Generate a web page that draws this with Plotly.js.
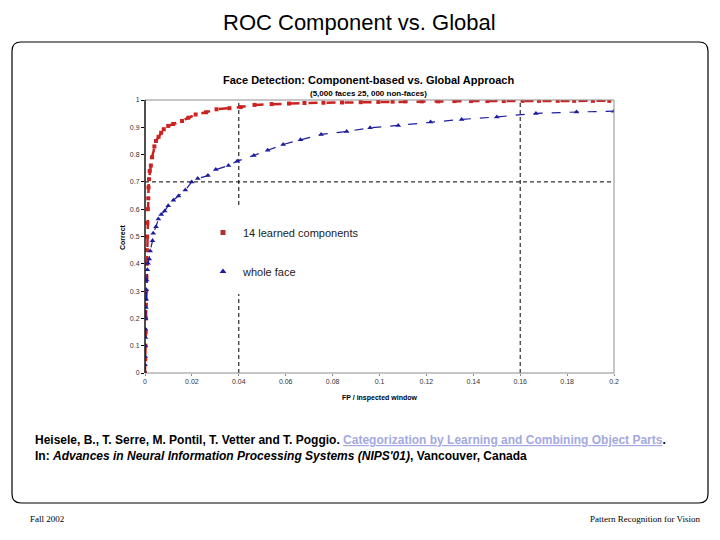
<!DOCTYPE html>
<html>
<head>
<meta charset="utf-8">
<script src="https://cdn.plot.ly/plotly-3.0.1.min.js"></script>
<style>html,body{margin:0;padding:0;background:#fff;}#chart{width:720px;height:540px;}</style>
</head>
<body>
<div id="chart"></div>
<script>
// ---- Data ----
var seriesNames = ["14 learned components", "whole face"];

var componentFP = [0, 0.0001, 0.0002, 0.0003, 0.0003, 0.0004, 0.0005, 0.0006, 0.0007, 0.0008, 0.0009, 0.001, 0.0012, 0.0014, 0.0015, 0.0017, 0.002, 0.0025, 0.003, 0.004, 0.0047, 0.0058, 0.0069, 0.008, 0.0099, 0.012, 0.0158, 0.0185, 0.0216, 0.026, 0.0305, 0.036, 0.0408, 0.0467, 0.054, 0.0614, 0.068, 0.0761, 0.084, 0.092, 0.0995, 0.1056, 0.111, 0.118, 0.125, 0.132, 0.139, 0.146, 0.153, 0.161, 0.168, 0.176, 0.183, 0.191, 0.198];
var componentCorrect = [0, 0.05, 0.1, 0.15, 0.2, 0.25, 0.3, 0.35, 0.4, 0.45, 0.5, 0.55, 0.6, 0.64, 0.68, 0.71, 0.74, 0.76, 0.79, 0.83, 0.85, 0.865, 0.88, 0.893, 0.905, 0.912, 0.923, 0.935, 0.947, 0.955, 0.966, 0.97, 0.974, 0.982, 0.985, 0.987, 0.989, 0.99, 0.991, 0.992, 0.993, 0.994, 0.995, 0.995, 0.995, 0.996, 0.996, 0.996, 0.996, 0.997, 0.997, 0.997, 0.997, 0.997, 0.997];

var wholeFP = [0, 0, 0.0001, 0.0001, 0.0002, 0.0002, 0.0003, 0.0004, 0.0005, 0.0006, 0.0007, 0.001, 0.0013, 0.0018, 0.0022, 0.0032, 0.0035, 0.0047, 0.0057, 0.0069, 0.0084, 0.0099, 0.0121, 0.0143, 0.0172, 0.0199, 0.0225, 0.0268, 0.0302, 0.0356, 0.0393, 0.0464, 0.0523, 0.0589, 0.0663, 0.0751, 0.086, 0.096, 0.108, 0.1218, 0.135, 0.15, 0.1667, 0.184, 0.2];
var wholeCorrect = [0, 0.03, 0.06, 0.1, 0.13, 0.16, 0.2, 0.24, 0.27, 0.305, 0.341, 0.378, 0.402, 0.418, 0.447, 0.484, 0.512, 0.536, 0.564, 0.581, 0.593, 0.613, 0.633, 0.648, 0.67, 0.7, 0.712, 0.723, 0.745, 0.76, 0.776, 0.797, 0.816, 0.837, 0.854, 0.874, 0.885, 0.898, 0.907, 0.919, 0.929, 0.938, 0.951, 0.956, 0.959];

var xTickVals = [0, 0.02, 0.04, 0.06, 0.08, 0.1, 0.12, 0.14, 0.16, 0.18, 0.2];
var xTickText = ["0", "0.02", "0.04", "0.06", "0.08", "0.1", "0.12", "0.14", "0.16", "0.18", "0.2"];
var yTickVals = [0, 0.1, 0.2, 0.3, 0.4, 0.5, 0.6, 0.7, 0.8, 0.9, 1];
var yTickText = ["0", "0.1", "0.2", "0.3", "0.4", "0.5", "0.6", "0.7", "0.8", "0.9", "1"];
var refX = [0.04, 0.16];
var refY = [0.7];

// ---- Layout helpers (pixel -> paper / data) ----
var L = 145, R = 614, T = 100, B = 373;
function px(x) { return (x - L) / (R - L); }
function py(y) { return (B - y) / (B - T); }
function dx(x) { return px(x) * 0.2; }
function dy(y) { return py(y); }

var RED = "#cc2222", BLUE = "#1c1c9c";

var traces = [
  {x: componentFP, y: componentCorrect, mode: "lines+markers", showlegend: false,
   line: {color: RED, width: 2.5, dash: "dash"},
   marker: {symbol: "square", size: 4, color: RED}},
  {x: wholeFP, y: wholeCorrect, mode: "lines+markers", showlegend: false,
   line: {color: BLUE, width: 1.2, dash: "dash"},
   marker: {symbol: "triangle-up", size: 5, color: BLUE}},
  {x: [null], y: [null], mode: "markers", name: seriesNames[0], legendgroup: "a",
   marker: {symbol: "square", size: 5, color: "#b03030"}},
  {x: [null], y: [null], mode: "markers", name: seriesNames[1], legendgroup: "b",
   marker: {symbol: "triangle-up", size: 6, color: BLUE}}
];

// rounded slide border
var bl = 12, br = 708, bt = 42, bb = 503, rr = 9;
var borderPath = "M " + px(bl + rr) + "," + py(bt) +
  " L " + px(br - rr) + "," + py(bt) +
  " Q " + px(br) + "," + py(bt) + " " + px(br) + "," + py(bt + rr) +
  " L " + px(br) + "," + py(bb - rr) +
  " Q " + px(br) + "," + py(bb) + " " + px(br - rr) + "," + py(bb) +
  " L " + px(bl + rr) + "," + py(bb) +
  " Q " + px(bl) + "," + py(bb) + " " + px(bl) + "," + py(bb - rr) +
  " L " + px(bl) + "," + py(bt + rr) +
  " Q " + px(bl) + "," + py(bt) + " " + px(bl + rr) + "," + py(bt) + " Z";

var shapes = [];
refX.forEach(function (v) {
  shapes.push({type: "line", layer: "below", xref: "x", yref: "y", x0: v, x1: v, y0: 0, y1: 1,
    line: {color: "#000", width: 1, dash: "4px,3px"}});
});
refY.forEach(function (v) {
  shapes.push({type: "line", layer: "below", xref: "x", yref: "y", x0: 0, x1: 0.2, y0: v, y1: v,
    line: {color: "#000", width: 1, dash: "4px,3px"}});
});
// white box behind legend (hides the reference line there)
shapes.push({type: "rect", layer: "below", xref: "x", yref: "y",
  x0: dx(218), x1: dx(365), y0: dy(207), y1: dy(294), fillcolor: "#fff", line: {width: 0}});
// plot frame (gray) and black left axis
shapes.push({type: "rect", layer: "above", xref: "paper", yref: "paper", x0: 0, x1: 1, y0: 0, y1: 1,
  line: {color: "#8c8c8c", width: 1}});
shapes.push({type: "line", layer: "above", xref: "paper", yref: "paper", x0: 0, x1: 0, y0: 0, y1: 1,
  line: {color: "#000", width: 1.2}});
shapes.push({type: "path", xref: "paper", yref: "paper", path: borderPath, line: {color: "#000", width: 1.2}});

var annotations = [
  {text: "ROC Component vs. Global", x: px(359), y: py(23), xref: "paper", yref: "paper",
   showarrow: false, xanchor: "center", yanchor: "middle",
   font: {family: "Liberation Sans, Arial, sans-serif", size: 22, color: "#000"}},
  {text: "<b>Face Detection: Component-based vs. Global Approach</b>", x: px(368), y: py(80),
   xref: "paper", yref: "paper", showarrow: false, xanchor: "center", yanchor: "middle",
   font: {family: "Liberation Sans, Arial, sans-serif", size: 11, color: "#000"}},
  {text: "<b>(5,000 faces 25, 000 non-faces)</b>", x: px(368), y: py(93),
   xref: "paper", yref: "paper", showarrow: false, xanchor: "center", yanchor: "middle",
   font: {family: "Liberation Sans, Arial, sans-serif", size: 8, color: "#000"}},
  {text: "<b>Correct</b>", x: px(122), y: py(237), xref: "paper", yref: "paper", textangle: -90,
   showarrow: false, xanchor: "center", yanchor: "middle",
   font: {family: "Liberation Sans, Arial, sans-serif", size: 7, color: "#000"}},
  {text: "<b>FP / inspected window</b>", x: px(379), y: py(398), xref: "paper", yref: "paper",
   showarrow: false, xanchor: "center", yanchor: "middle",
   font: {family: "Liberation Sans, Arial, sans-serif", size: 7, color: "#000"}},
  {text: "<b>Heisele, B., T. Serre, M. Pontil, T. Vetter and T. Poggio. <span style='color:#a4a9df'><u>Categorization by Learning and Combining Object Parts</u></span>.</b>",
   x: px(33), y: py(440), xref: "paper", yref: "paper", showarrow: false, xanchor: "left", yanchor: "middle",
   font: {family: "Liberation Sans, Arial, sans-serif", size: 12, color: "#000"}},
  {text: "<b>In: <i>Advances in Neural Information Processing Systems (NIPS'01)</i>, Vancouver, Canada</b>",
   x: px(33), y: py(456), xref: "paper", yref: "paper", showarrow: false, xanchor: "left", yanchor: "middle",
   font: {family: "Liberation Sans, Arial, sans-serif", size: 12, color: "#000"}},
  {text: "Fall 2002", x: px(28), y: py(519), xref: "paper", yref: "paper", showarrow: false,
   xanchor: "left", yanchor: "middle", font: {family: "Liberation Serif, Times New Roman, serif", size: 9, color: "#000"}},
  {text: "Pattern Recognition for Vision", x: px(703), y: py(519), xref: "paper", yref: "paper", showarrow: false,
   xanchor: "right", yanchor: "middle", font: {family: "Liberation Serif, Times New Roman, serif", size: 9, color: "#000"}}
];

var layout = {
  width: 720, height: 540,
  margin: {l: L, r: 720 - R, t: T, b: 540 - B, pad: 0},
  paper_bgcolor: "#fff", plot_bgcolor: "#fff",
  showlegend: true,
  legend: {x: px(203), y: py(218), xanchor: "left", yanchor: "top", bgcolor: "rgba(0,0,0,0)",
    borderwidth: 0, tracegroupgap: 20, traceorder: "grouped",
    font: {family: "Liberation Sans, Arial, sans-serif", size: 11, color: "#222"}},
  xaxis: {range: [0, 0.2], tickvals: xTickVals, ticktext: xTickText, showgrid: false, zeroline: false,
    showline: false, ticks: "outside", ticklen: 2, tickcolor: "#8c8c8c",
    tickfont: {family: "Liberation Sans, Arial, sans-serif", size: 7, color: "#333"}},
  yaxis: {range: [0, 1], tickvals: yTickVals, ticktext: yTickText, showgrid: false, zeroline: false,
    showline: false, ticks: "outside", ticklen: 3, tickcolor: "#000",
    tickfont: {family: "Liberation Sans, Arial, sans-serif", size: 7, color: "#333"}},
  shapes: shapes,
  annotations: annotations
};

Plotly.newPlot("chart", traces, layout, {displayModeBar: false, staticPlot: true});
</script>
</body>
</html>
